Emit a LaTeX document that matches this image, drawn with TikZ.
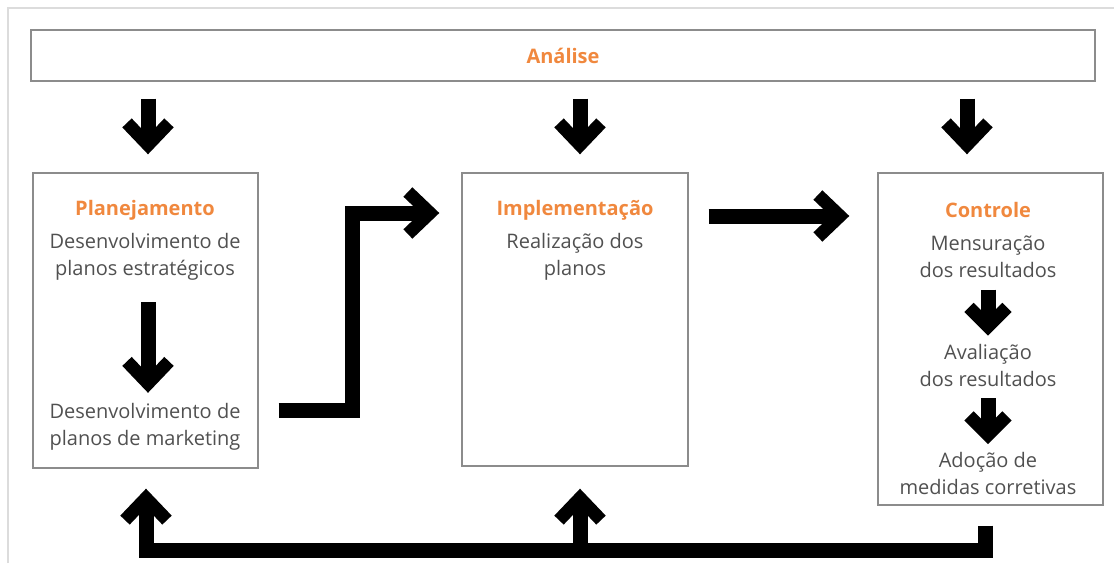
\documentclass[tikz,border=0pt]{standalone}
\usepackage{fontspec}
\setmainfont{Open Sans}
\usetikzlibrary{arrows.meta,positioning}
\definecolor{titleorange}{HTML}{F0883E}
\definecolor{textgray}{HTML}{505050}
\definecolor{boxgray}{HTML}{8C8C8C}
\definecolor{pagegray}{HTML}{DCDCDC}

\begin{document}
\begin{tikzpicture}[x=1pt, y=-1pt,
  stagebox/.style={draw=boxgray, line width=1.4pt, inner sep=0pt},
  stagetitle/.style={font=\fontsize{20}{24}\selectfont\bfseries, text=titleorange, inner sep=0pt},
  stagetext/.style={font=\fontsize{20}{27}\selectfont, text=textgray, align=center, inner sep=0pt},
  bigarrow/.style={line width=15pt, line join=miter, -{Straight Barb[length=22pt, width=42pt, line width=13pt]}},
  smallarrow/.style={line width=15pt, -{Straight Barb[length=19pt, width=38pt, line width=13pt]}}
]
\useasboundingbox (0,0) rectangle (1114,563);
\draw[pagegray, line width=2pt] (8,563) -- (8,8) -- (1114,8);

% boxes
\node[stagebox, minimum width=1064pt, minimum height=51pt] (analise) at (563,55.5) {};
\node[stagebox, minimum width=225pt, minimum height=295pt] (plan) at (145.5,320.5) {};
\node[stagebox, minimum width=226pt, minimum height=293pt] (impl) at (575,319.5) {};
\node[stagebox, minimum width=225pt, minimum height=332pt] (ctrl) at (990.5,339) {};

% texts
\node[stagetitle] (atitle) at (analise) {Análise};
\node[stagetitle] (ptitle) at (145,210) {Planejamento};
\node[stagetext] (p1) at (145,256.5) {Desenvolvimento de\\planos estratégicos};
\node[stagetext] (p2) at (145,426.5) {Desenvolvimento de\\planos de marketing};
\node[stagetitle] (ititle) at (575,210) {Implementação};
\node[stagetext] (i1) at (575,256.5) {Realização dos\\planos};
\node[stagetitle] (ctitle) at (988,210) {Controle};
\node[stagetext] (c1) at (988,256.5) {Mensuração\\dos resultados};
\node[stagetext] (c2) at (988,365) {Avaliação\\dos resultados};
\node[stagetext] (c3) at (988,473.5) {Adoção de\\medidas corretivas};

% arrows from Analise
\draw[bigarrow, shorten <=17pt, shorten >=18pt] ([xshift=2.5pt]analise.south -| plan.north) -- ([xshift=2.5pt]plan.north);
\draw[bigarrow, shorten <=17pt, shorten >=18pt] ([xshift=5pt]analise.south -| impl.north) -- ([xshift=5pt]impl.north);
\draw[bigarrow, shorten <=17pt, shorten >=18pt] ([xshift=-23.5pt]analise.south -| ctrl.north) -- ([xshift=-23.5pt]ctrl.north);

% inside boxes
\draw[bigarrow, shorten <=22pt, shorten >=10pt] ([xshift=3pt]p1.south) -- ([xshift=3pt]p2.north);
\draw[smallarrow, shorten <=12pt, shorten >=8pt] (c1.south) -- (c2.north);
\draw[smallarrow, shorten <=12pt, shorten >=8pt] (c2.south) -- (c3.north);

% between stages
\draw[bigarrow, shorten <=20pt, shorten >=22pt] (plan.east |- 0,410) -- (352,410) |- (impl.west |- 0,213);
\draw[bigarrow, shorten <=20pt, shorten >=28pt] (impl.east |- 0,216) -- (ctrl.west |- 0,216);

% feedback
\draw[bigarrow, shorten <=20pt, shorten >=20pt] (ctrl.south -| 985,0) -- (985,550) -| ([xshift=0.5pt]plan.south);
\draw[bigarrow, shorten >=22pt] ([xshift=5pt]impl.south |- 0,550) -- ([xshift=5pt]impl.south);
\end{tikzpicture}
\end{document}
